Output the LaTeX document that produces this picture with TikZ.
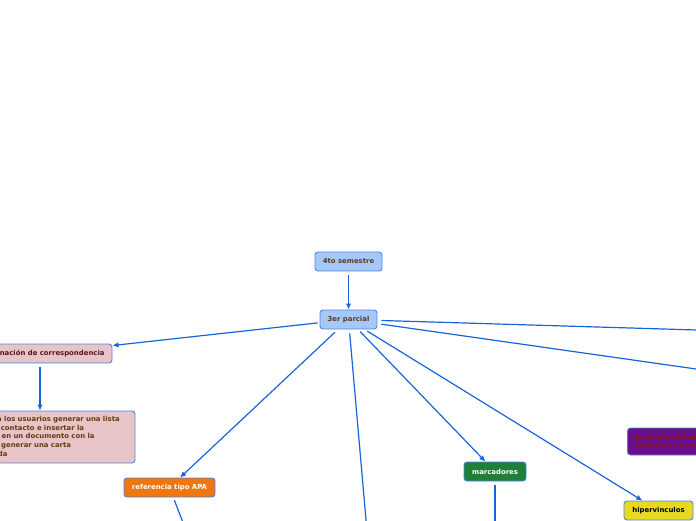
\documentclass[tikz,border=0pt]{standalone}
\usepackage{fontspec}
\setmainfont{DejaVu Sans}
\usetikzlibrary{arrows.meta}
\definecolor{edge}{HTML}{1664D8}
\definecolor{bord}{HTML}{4A86E8}
\definecolor{lblue}{HTML}{A6C8F8}
\definecolor{lpink}{HTML}{E6C4C8}
\definecolor{orng}{HTML}{EE7711}
\definecolor{grn}{HTML}{1E8038}
\definecolor{yllw}{HTML}{E8D81E}
\definecolor{purp}{HTML}{6A0E8E}
\definecolor{brn}{HTML}{5C3A1E}
\definecolor{maroon}{HTML}{5A1420}
\definecolor{dbrown}{HTML}{6A3A10}
\definecolor{dred}{HTML}{8A1A1A}
\begin{document}
\begin{tikzpicture}[x=1pt,y=-1pt,
  font=\fontsize{6.9}{8.7}\selectfont\bfseries,
  box/.style={draw=bord, line width=0.9pt, rounded corners=3pt, inner sep=0pt, minimum height=19pt},
  conn/.style={draw=edge, line width=1.2pt},
  arr/.style={conn, -{Latex[length=6pt,width=5.5pt]}}]
\useasboundingbox (0,0) rectangle (696,520);
\clip (0,0) rectangle (696,520);

\node[box, fill=lblue, text=brn, minimum width=67pt] (n4to) at (348.5,261.5) {4to semestre};
\node[box, fill=lblue, text=brn, minimum width=57pt] (n3er) at (348.5,319.5) {3er parcial};
\node[box, fill=lpink, text=maroon, minimum width=144pt] (corr) at (40,353.5) {Combinación de correspondencia};
\node[box, fill=lpink, text=dbrown, inner xsep=8pt, text width=174pt, align=left, minimum height=52pt] (desc) at (40,437)
  {Le permite a los usuarios generar una lista\\de datos de contacto e insertar la\\información en un documento con la\\finalidad de generar una carta\\personalizada};
\node[box, fill=orng, text=white, minimum width=91pt] (ref) at (169.5,487.5) {referencia tipo APA};
\node[box, fill=grn, text=white, minimum width=62pt] (marc) at (495,471.5) {marcadores};
\node[box, fill=yllw, text=black, minimum width=69pt] (hiper) at (658.5,510.5) {hipervinculos};
\node[box, fill=purp, text=dred, anchor=west, inner xsep=8pt, text width=114pt, align=left, minimum height=27pt] (tabla) at (627,441.5)
  {enumera los temas que se\\tratan en un documento};

\coordinate (r1) at (760,331.9);
\coordinate (r2) at (760,378.1);
\coordinate (b1) at (369.5,560);
\coordinate (b2) at (197.4,560);
\coordinate (b3) at (495,560);

\draw[arr, shorten <=4pt] (n4to) -- (n3er);
\draw[arr, shorten <=2pt] (n3er) -- (corr);
\draw[arr, shorten <=4pt] (corr) -- (desc);
\draw[arr, shorten <=4pt] (n3er) -- (ref);
\draw[arr, shorten <=3pt] (n3er) -- (marc);
\draw[arr, shorten <=3pt] (n3er) -- (hiper);
\draw[conn, shorten <=4pt] (n3er) -- (r1);
\draw[conn, shorten <=4pt] (n3er) -- (r2);
\draw[conn, shorten <=4pt] (n3er) -- (b1);
\draw[conn, shorten <=3pt] (ref) -- (b2);
\draw[conn, shorten <=4pt] (marc) -- (b3);
\end{tikzpicture}
\end{document}
